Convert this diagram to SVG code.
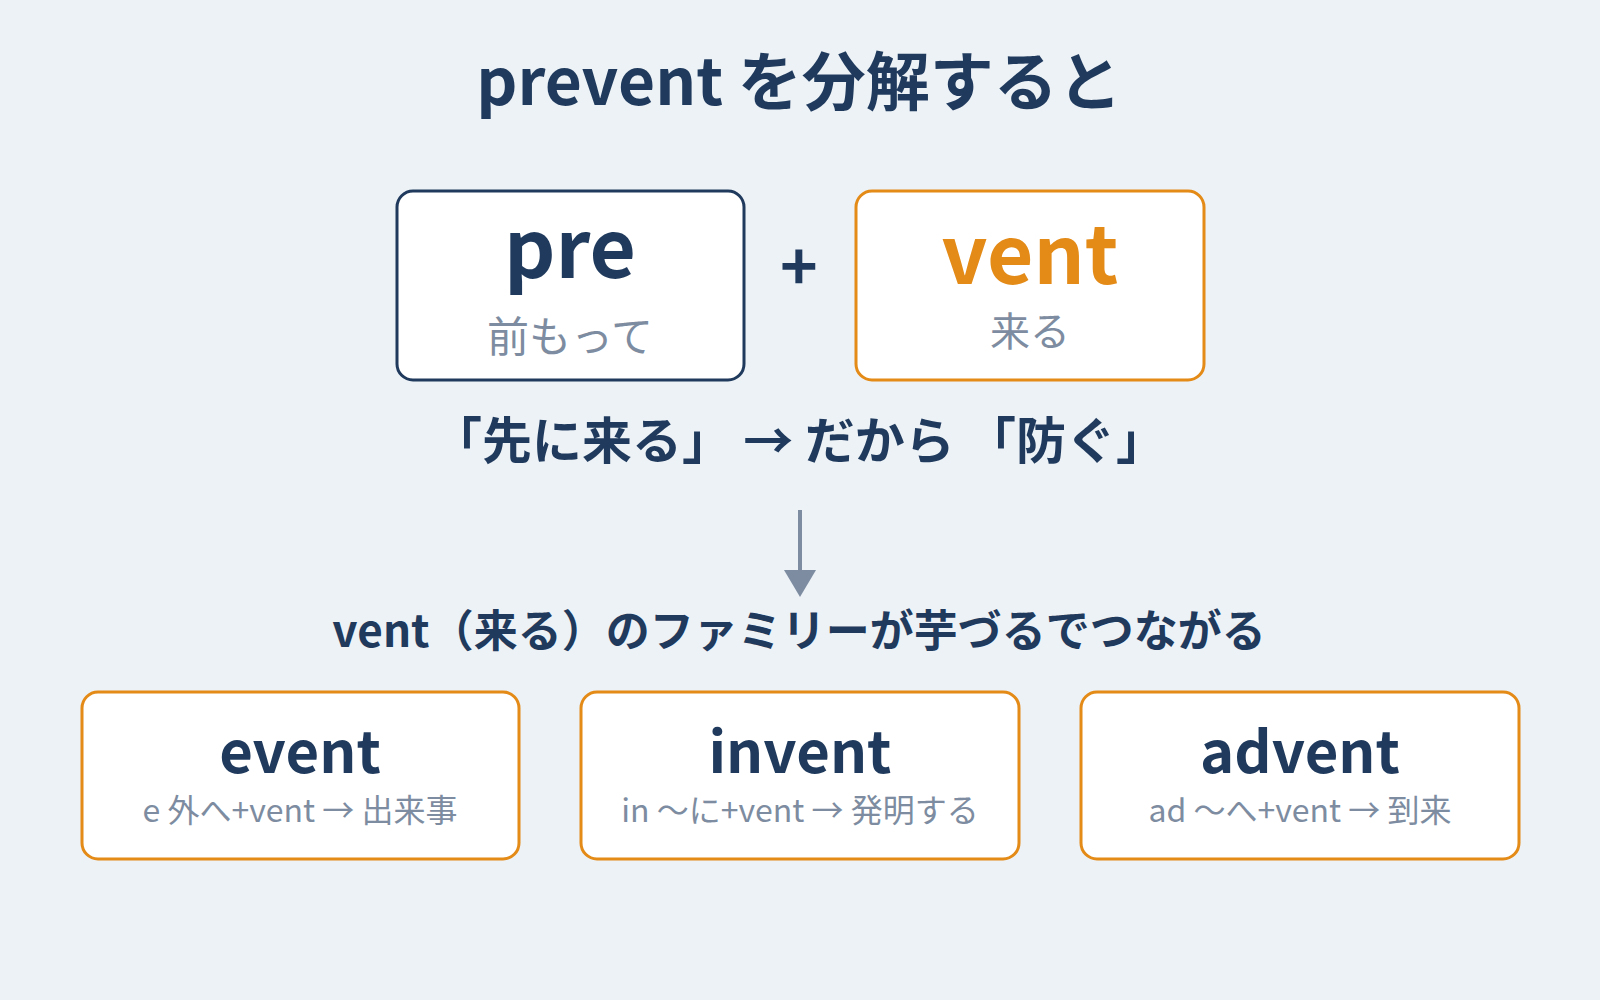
<svg xmlns="http://www.w3.org/2000/svg" width="1600" height="1000" viewBox="0 0 1600 1000">
<style>
text{font-family:"Noto Sans CJK JP","Noto Sans",sans-serif;text-anchor:middle}
.d{fill:#1f3a5c;font-weight:bold}
.g{fill:#7d8ca0}
.box{fill:#fff;stroke-width:3}
</style>
<rect width="1600" height="1000" fill="#edf2f7"/>
<text class="d" x="799" y="105" font-size="64">prevent を分解すると</text>
<g id="pre"><rect class="box" x="397" y="191" width="347" height="189" rx="16" stroke="#1f3a5c"/>
<text class="d" x="570" y="278" font-size="80">pre</text>
<text class="g" x="570" y="352" font-size="42">前もって</text></g>
<text class="d" x="799" y="290" font-size="64" font-weight="normal">+</text>
<g id="vent"><rect class="box" x="856" y="191" width="348" height="189" rx="16" stroke="#e38a17"/>
<text class="d" x="1030" y="284" font-size="80" style="fill:#e38a17">vent</text>
<text class="g" x="1030" y="346" font-size="40">来る</text></g>
<text class="d" x="799" y="459" font-size="50">「先に来る」 → だから 「防ぐ」</text>
<g id="connectors"><line x1="800" y1="510" x2="800" y2="572" stroke="#7d8ca0" stroke-width="4"/>
<polygon points="784,570 816,570 800,597" fill="#7d8ca0"/></g>
<text class="d" x="799" y="647" font-size="44">vent（来る）のファミリーが芋づるでつながる</text>
<g id="event"><rect class="box" x="82" y="692" width="437" height="167" rx="16" stroke="#e38a17"/>
<text class="d" x="300" y="773" font-size="58">event</text>
<text class="g" x="300" y="822" font-size="32">e 外へ+vent → 出来事</text></g>
<g id="invent"><rect class="box" x="581" y="692" width="438" height="167" rx="16" stroke="#e38a17"/>
<text class="d" x="800" y="773" font-size="58">invent</text>
<text class="g" x="800" y="822" font-size="32">in 〜に+vent → 発明する</text></g>
<g id="advent"><rect class="box" x="1081" y="692" width="438" height="167" rx="16" stroke="#e38a17"/>
<text class="d" x="1300" y="773" font-size="58">advent</text>
<text class="g" x="1300" y="822" font-size="32">ad 〜へ+vent → 到来</text></g>
</svg>
